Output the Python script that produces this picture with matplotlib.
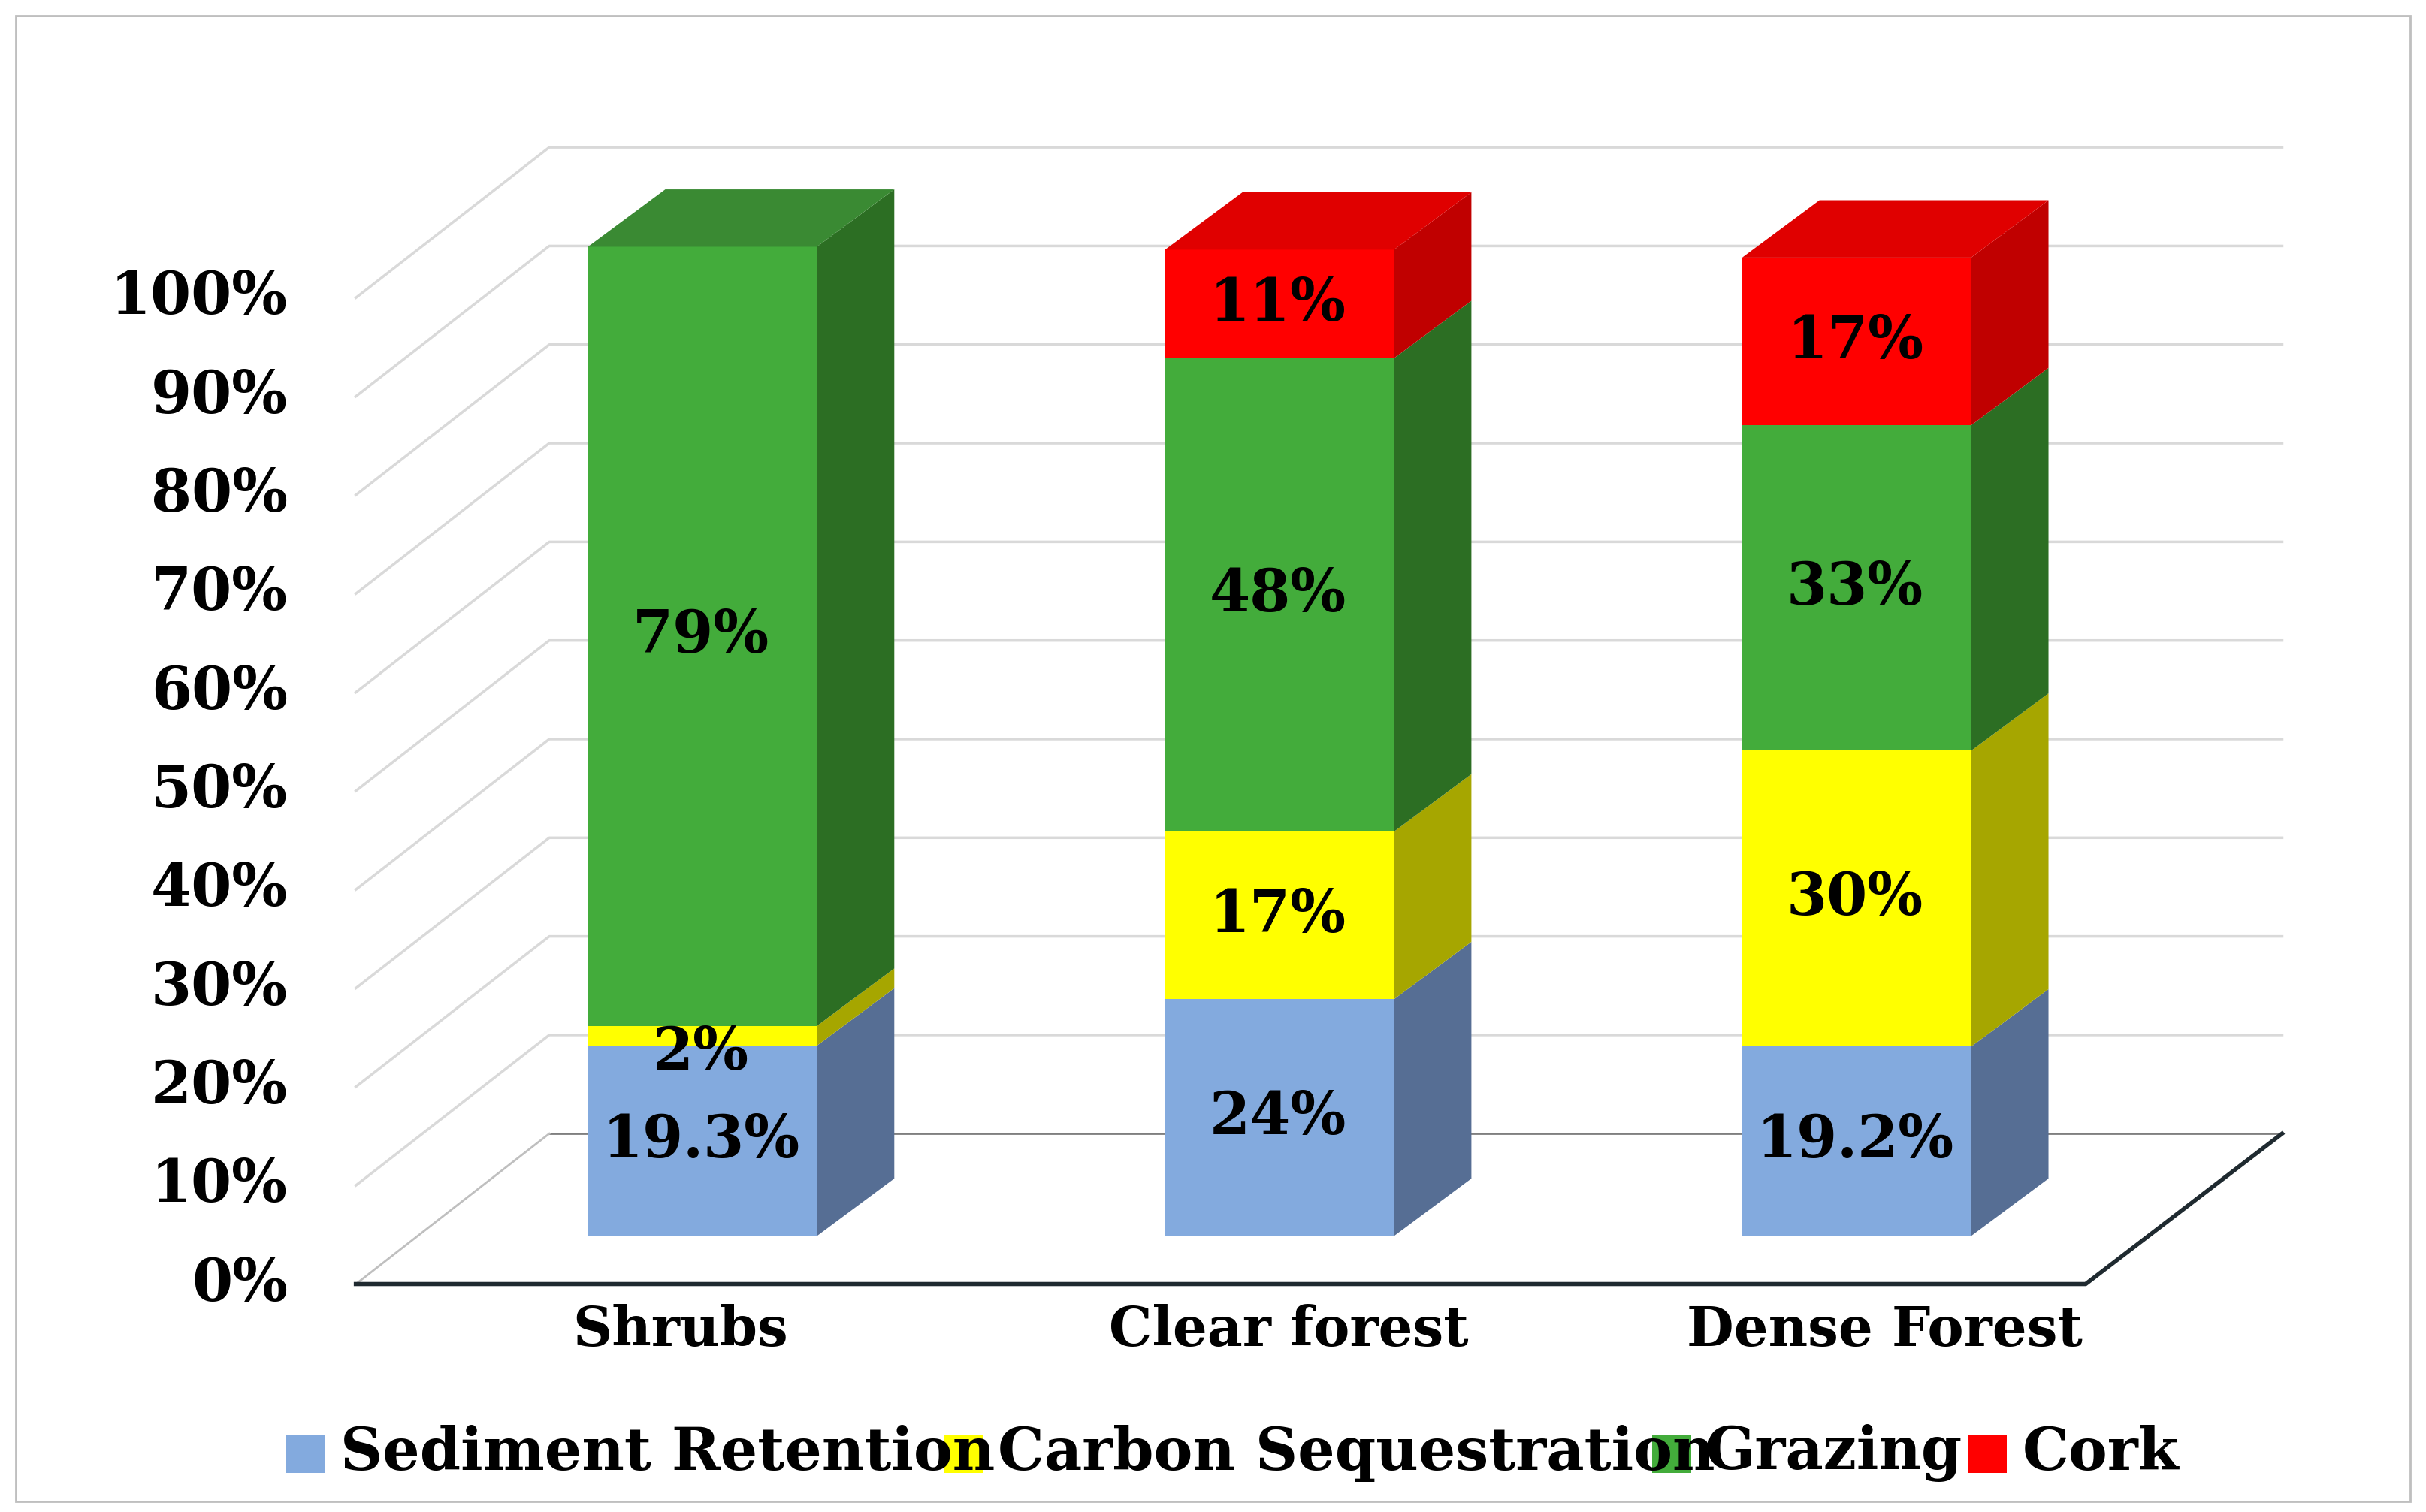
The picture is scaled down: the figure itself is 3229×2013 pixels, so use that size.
import matplotlib
matplotlib.use("Agg")
import matplotlib.pyplot as plt
from matplotlib.patches import Polygon, Rectangle

categories = ["Shrubs", "Clear forest", "Dense Forest"]
series = ["Sediment Retention", "Carbon Sequestration", "Grazing", "Cork"]
sediment = [19.3, 24, 19.2]
carbon = [2, 17, 30]
grazing = [79, 48, 33]
cork = [0, 11, 17]
labels = [["19.3%", "24%", "19.2%"], ["2%", "17%", "30%"], ["79%", "48%", "33%"], ["", "11%", "17%"]]
yticks = list(range(0, 101, 10))

front = ["#83AADE", "#FFFF00", "#43AC3B", "#FF0000"]
side = ["#566E94", "#A6A600", "#2C6E23", "#C00000"]
top = ["#6F90BD", "#D9D900", "#3A8A33", "#E00000"]

W, H = 1568, 975
fig = plt.figure(figsize=(32.29, 20.13), dpi=100)
ax = fig.add_axes([0, 0, 1, 1])
ax.set_xlim(0, W); ax.set_ylim(H, 0); ax.axis("off")
font = "DejaVu Serif"

S = 6.36
def axis_y(v): return 828 - v * S
# border
ax.add_patch(Rectangle((10, 10), 1548, 958, fill=False, ec="#BFBFBF", lw=2))
# gridlines
for v in yticks:
    y = axis_y(v)
    if v > 0:
        ax.plot([230, 355, 1475], [y, y - 97, y - 97], color="#D9D9D9", lw=2.5, zorder=1)
    ax.text(186, y, f"{v}%", ha="right", va="center", fontsize=56, fontweight="bold", family=font)
# floor
ax.add_patch(Polygon([(230, 828), (1348, 828), (1475, 731), (355, 731)], closed=True, fc="white", ec="none", zorder=2))
ax.plot([355, 1475], [731, 731], color="#7F7F7F", lw=2, zorder=2)
ax.plot([230, 355], [828, 731], color="#BFBFBF", lw=2, zorder=2)
ax.plot([230, 1348, 1475], [828, 828, 731], color="#1F2A30", lw=4, zorder=3)

data = [sediment, carbon, grazing, cork]
xs = [380, 753, 1126]
bw, dx, dy, y0 = 148, 50, -37, 797
for i, x in enumerate(xs):
    base = 0
    last = max(k for k in range(4) if data[k][i] > 0)
    for k in range(4):
        v = data[k][i]
        if v <= 0:
            continue
        yb = y0 - base * S
        yt = y0 - (base + v) * S
        ax.add_patch(Polygon([(x, yb), (x + bw, yb), (x + bw, yt), (x, yt)], fc=front[k], ec="none", zorder=4))
        ax.add_patch(Polygon([(x + bw, yb), (x + bw + dx, yb + dy), (x + bw + dx, yt + dy), (x + bw, yt)], fc=side[k], ec="none", zorder=4))
        if k == last:
            ax.add_patch(Polygon([(x, yt), (x + bw, yt), (x + bw + dx, yt + dy), (x + dx, yt + dy)], fc=top[k], ec="none", zorder=4))
        yc = (yb + yt) / 2
        if k == 1 and v < 5:
            yc = yb + 5
        ax.text(x + 73, yc, labels[k][i], ha="center", va="center", fontsize=56, fontweight="bold", family=font, zorder=5)
        base += v
for x, c in zip([440, 833, 1218], categories):
    ax.text(x, 858, c, ha="center", va="center", fontsize=52, fontweight="bold", family=font)
# legend
for sx, tx, k in zip([185, 610, 1068, 1272], [220, 645, 1102, 1307], range(4)):
    ax.add_patch(Rectangle((sx, 925), 25, 25, fc=front[k], ec="none"))
    ax.text(tx, 937, series[k], ha="left", va="center", fontsize=56, fontweight="bold", family=font)
fig.savefig("out.png", dpi=100)
